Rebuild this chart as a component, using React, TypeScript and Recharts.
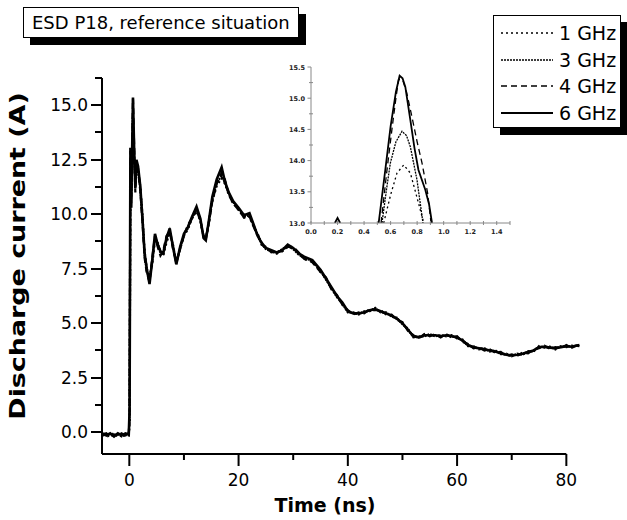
import { LineChart, Line, XAxis, YAxis, ReferenceLine } from 'recharts'

// time axis (ns) shared by the four main traces
const time = [
    -4.85, -4.2, -3.5, -2.8, -2.1, -1.4, -0.7, -0.1, 0.05, 0.2,
    0.35, 0.67, 0.9, 1.1, 1.3, 1.6, 2.0, 2.4, 2.8, 3.2,
    3.7, 4.2, 4.7, 5.2, 5.7, 6.2, 6.8, 7.4, 8.0, 8.6,
    9.3, 10.0, 10.7, 11.5, 12.3, 13.0, 13.6, 14.0, 14.5, 15.2,
    16.0, 16.9, 17.5, 18.2, 19.0, 20.0, 21.0, 22.0, 22.8, 23.5,
    24.2, 25, 26, 27, 28, 29, 30, 31, 32, 33.5,
    35, 36, 37, 38, 39, 40, 41, 42, 43, 44,
    45, 46, 47, 48, 49, 50, 51, 52, 53, 54,
    55, 56, 57, 58, 59, 60, 61, 62, 63, 64,
    65, 66, 67, 68, 69, 70, 71, 72, 73, 74,
    75, 76, 77, 78, 79, 80, 81, 82.4,
]

const ghz1 = [
    -0.1, -0.2, -0.15, -0.05, -0.2, -0.1, -0.15, -0.2, 0.5, 11.8,
    11.0, 13.93, 12.5, 11.6, 12.1, 12.0, 11.3, 10.0, 8.3, 7.5,
    7.1, 7.7, 8.8, 8.6, 8.3, 8.1, 8.7, 9.15, 8.6, 7.8,
    8.4, 9.0, 9.3, 9.8, 10.15, 9.7, 9.0, 8.9, 9.5, 10.6,
    11.3, 11.65, 11.4, 10.9, 10.5, 10.2, 9.85, 9.9, 9.4, 9.0,
    8.7, 8.4, 8.35, 8.2, 8.35, 8.5, 8.45, 8.2, 7.95, 7.85,
    7.35, 7.05, 6.6, 6.25, 5.85, 5.55, 5.45, 5.45, 5.5, 5.6,
    5.6, 5.55, 5.45, 5.35, 5.2, 5.0, 4.7, 4.4, 4.35, 4.45,
    4.45, 4.45, 4.4, 4.45, 4.4, 4.35, 4.2, 4.0, 3.9, 3.85,
    3.8, 3.75, 3.7, 3.62, 3.55, 3.52, 3.55, 3.6, 3.68, 3.75,
    3.9, 3.92, 3.88, 3.85, 3.9, 3.95, 3.92, 4.0,
]

const ghz3 = [
    -0.15, -0.1, -0.1, -0.15, -0.1, -0.2, -0.1, -0.15, 0.6, 12.4,
    10.8, 14.47, 12.7, 11.4, 12.3, 12.1, 11.2, 9.9, 8.1, 7.4,
    7.0, 7.8, 8.9, 8.7, 8.2, 8.15, 8.8, 9.25, 8.55, 7.75,
    8.45, 9.05, 9.35, 9.85, 10.25, 9.75, 8.95, 8.85, 9.55, 10.7,
    11.45, 11.75, 11.45, 10.95, 10.55, 10.25, 9.9, 9.95, 9.45, 9.05,
    8.65, 8.4, 8.3, 8.2, 8.4, 8.55, 8.4, 8.15, 8.0, 7.85,
    7.4, 7.0, 6.6, 6.2, 5.9, 5.5, 5.5, 5.4, 5.55, 5.55,
    5.7, 5.5, 5.5, 5.3, 5.25, 4.95, 4.75, 4.35, 4.4, 4.4,
    4.5, 4.4, 4.45, 4.4, 4.45, 4.3, 4.25, 3.95, 3.95, 3.8,
    3.85, 3.7, 3.75, 3.58, 3.6, 3.48, 3.6, 3.55, 3.72, 3.7,
    3.95, 3.88, 3.93, 3.8, 3.95, 3.9, 3.97, 3.95,
]

const ghz4 = [
    -0.1, -0.05, -0.2, -0.1, -0.15, -0.05, -0.2, -0.05, 0.8, 12.9,
    10.5, 15.3, 13.0, 11.0, 12.4, 12.0, 11.1, 9.7, 8.0, 7.3,
    6.9, 8.0, 9.0, 8.5, 8.1, 8.3, 9.0, 9.2, 8.4, 7.8,
    8.4, 9.0, 9.5, 9.8, 10.2, 9.7, 9.0, 8.9, 9.5, 10.6,
    11.4, 11.9, 11.6, 10.9, 10.5, 10.2, 9.85, 9.9, 9.4, 9.1,
    8.6, 8.5, 8.25, 8.3, 8.3, 8.5, 8.5, 8.25, 7.95, 7.8,
    7.35, 7.1, 6.55, 6.3, 5.85, 5.6, 5.4, 5.5, 5.45, 5.65,
    5.6, 5.6, 5.4, 5.4, 5.15, 5.05, 4.65, 4.45, 4.3, 4.5,
    4.4, 4.5, 4.35, 4.5, 4.35, 4.4, 4.15, 4.05, 3.85, 3.9,
    3.75, 3.8, 3.65, 3.68, 3.5, 3.57, 3.5, 3.65, 3.62, 3.8,
    3.85, 3.97, 3.83, 3.9, 3.85, 4.0, 3.87, 4.05,
]

const ghz6 = [
    -0.05, -0.15, -0.05, -0.2, -0.05, -0.15, -0.05, -0.1, 1.0, 13.05,
    10.3, 15.35, 12.8, 11.2, 12.5, 12.2, 11.3, 9.8, 8.2, 7.5,
    6.8, 7.9, 9.1, 8.6, 8.3, 8.2, 8.9, 9.35, 8.5, 7.7,
    8.5, 9.1, 9.4, 9.9, 10.35, 9.8, 8.9, 8.8, 9.6, 10.8,
    11.6, 12.15, 11.5, 11.0, 10.6, 10.3, 9.95, 10.05, 9.5, 9.0,
    8.7, 8.45, 8.35, 8.25, 8.35, 8.6, 8.45, 8.2, 8.05, 7.9,
    7.45, 7.05, 6.65, 6.25, 5.95, 5.55, 5.45, 5.45, 5.5, 5.6,
    5.65, 5.55, 5.45, 5.35, 5.2, 5.0, 4.7, 4.4, 4.35, 4.45,
    4.45, 4.45, 4.4, 4.45, 4.4, 4.35, 4.2, 4.0, 3.9, 3.85,
    3.8, 3.75, 3.7, 3.62, 3.55, 3.52, 3.55, 3.6, 3.68, 3.75,
    3.9, 3.92, 3.88, 3.85, 3.9, 3.95, 3.92, 4.0,
]

// inset: zoom on the first peak
const insetT1 = [0.548, 0.6, 0.648, 0.699, 0.749, 0.8, 0.85]
const insetV1 = [13, 13.45, 13.8, 13.93, 13.8, 13.4, 13]
const insetT3 = [0.535, 0.57, 0.598, 0.64, 0.686, 0.72, 0.749, 0.799, 0.844]
const insetV3 = [13, 13.55, 13.96, 14.3, 14.47, 14.4, 14.22, 13.69, 13]
const insetT4 = [0.528, 0.57, 0.61, 0.64, 0.66, 0.69, 0.72, 0.761, 0.8, 0.837, 0.879, 0.905]
const insetV4 = [13, 13.8, 14.5, 15.0, 15.3, 15.3, 15.1, 14.7, 14.3, 13.96, 13.48, 13]
const insetT6 = [0.18, 0.2, 0.22, 0.3, 0.51, 0.56, 0.6, 0.64, 0.668, 0.69, 0.711, 0.749, 0.78, 0.81, 0.862, 0.89, 0.912]
const insetV6 = [13, 13.08, 13, null, 13, 13.85, 14.55, 15.1, 15.36, 15.32, 15.18, 14.65, 14.2, 13.85, 13.53, 13.3, 13]

const xTicks = [0, 10, 20, 30, 40, 50, 60, 70, 80]
const yTicks = [0, 1.25, 2.5, 3.75, 5, 6.25, 7.5, 8.75, 10, 11.25, 12.5, 13.75, 15, 16.25]
const insetXTicks = [0, 0.1, 0.2, 0.3, 0.4, 0.5, 0.6, 0.7, 0.8, 0.9, 1.0, 1.1, 1.2, 1.3, 1.4, 1.5]
const insetYTicks = [13, 13.25, 13.5, 13.75, 14, 14.25, 14.5, 14.75, 15, 15.25, 15.5]

const series = [
    { key: 'g1', name: '1 GHz', dash: '2 3', width: 2.2, inset: 1.3, t: insetT1, v: insetV1 },
    { key: 'g3', name: '3 GHz', dash: '2 1', width: 2.2, inset: 1.3, t: insetT3, v: insetV3 },
    { key: 'g4', name: '4 GHz', dash: '6 4', width: 2.2, inset: 1.3, t: insetT4, v: insetV4 },
    { key: 'g6', name: '6 GHz', dash: undefined, width: 2.6, inset: 1.8, t: insetT6, v: insetV6 },
]

const mainData = time.map((t, i) => ({ t, g1: ghz1[i], g3: ghz3[i], g4: ghz4[i], g6: ghz6[i] }))

const FONT = '"DejaVu Sans", sans-serif'

const XTick = ({ x, y, payload }: any) => {
    const major = payload.value % 20 === 0
    return (
        <g>
            <line x1={x} x2={x} y1={y} y2={y + (major ? 12 : 6)} stroke="#000" strokeWidth={2} />
            {major && (
                <text x={x} y={y + 32} textAnchor="middle" fontSize={17} fontFamily={FONT} fill="#000">
                    {payload.value}
                </text>
            )}
        </g>
    )
}

const YTick = ({ x, y, payload }: any) => {
    const major = Math.abs(payload.value / 2.5 - Math.round(payload.value / 2.5)) < 0.01
    const yy = Math.round(y)
    return (
        <g>
            <line x1={x - (major ? 11 : 7)} x2={x} y1={yy} y2={yy} stroke="#000" strokeWidth={2} />
            {major && (
                <text x={x - 14} y={yy + 6} textAnchor="end" fontSize={17} fontFamily={FONT} fill="#000">
                    {payload.value.toFixed(1)}
                </text>
            )}
        </g>
    )
}

const InsetXTick = ({ x, y, payload }: any) => {
    const n = Math.round(payload.value * 10)
    const labelled = n % 2 === 0 && n <= 14
    return (
        <g>
            <line x1={x} x2={x} y1={y - 2} y2={y + 2} stroke="#888" strokeWidth={1} />
            {labelled && (
                <text x={x} y={y + 11} textAnchor="middle" fontSize={6.5} fontWeight="bold" fontFamily={FONT} fill="#222">
                    {payload.value.toFixed(1)}
                </text>
            )}
        </g>
    )
}

const InsetYTick = ({ x, y, payload }: any) => {
    const major = Math.round(payload.value * 4) % 2 === 0
    return (
        <g>
            <line x1={x - (major ? 3.5 : 2)} x2={x + (major ? 0 : 2)} y1={y} y2={y} stroke="#888" strokeWidth={1} />
            {major && (
                <text x={x - 6} y={y + 2.5} textAnchor="end" fontSize={6.5} fontWeight="bold" fontFamily={FONT} fill="#222">
                    {payload.value.toFixed(1)}
                </text>
            )}
        </g>
    )
}

const LegendSwatch = ({ dash, width }: { dash?: string; width: number }) => (
    <svg width={52} height={8} style={{ display: 'block' }}>
        <line x1={0} x2={52} y1={4} y2={4} stroke="#000" strokeWidth={width} strokeDasharray={dash} />
    </svg>
)

export default function App() {
    return (
        <div style={{ position: 'absolute', left: 0, top: 0, width: 627, height: 520, background: '#fff', fontFamily: FONT }}>
            {/* main chart */}
            <div style={{ position: 'absolute', left: 0, top: 0 }}>
                <LineChart width={627} height={520} data={mainData} margin={{ top: 78, right: 47, bottom: 36, left: 22 }}>
                    <XAxis
                        type="number"
                        dataKey="t"
                        domain={[-5, 82.5]}
                        ticks={xTicks}
                        interval={0}
                        allowDataOverflow
                        height={30}
                        axisLine={false}
                        tickLine={false}
                        tickSize={0}
                        tickMargin={0}
                        tick={<XTick />}
                    />
                    <YAxis
                        type="number"
                        domain={[-1, 16.25]}
                        ticks={yTicks}
                        interval={0}
                        allowDataOverflow
                        width={80}
                        stroke="#000"
                        axisLine={{ stroke: '#000', strokeWidth: 2 }}
                        tickLine={false}
                        tickSize={0}
                        tickMargin={0}
                        tick={<YTick />}
                    />
                    <ReferenceLine segment={[{ x: -5, y: -1 }, { x: 80, y: -1 }]} stroke="#000" strokeWidth={2} ifOverflow="visible" />
                    <ReferenceLine segment={[{ x: -5, y: -1 }, { x: -5, y: 16.25 }]} stroke="#000" strokeWidth={2} ifOverflow="visible" />
                    {series.map((s) => (
                        <Line
                            key={s.key}
                            type="linear"
                            dataKey={s.key}
                            stroke="#000"
                            strokeWidth={s.width}
                            strokeDasharray={s.dash}
                            dot={false}
                            isAnimationActive={false}
                        />
                    ))}
                </LineChart>
            </div>

            {/* inset chart */}
            <div style={{ position: 'absolute', left: 0, top: 0 }}>
                <LineChart width={627} height={520} margin={{ top: 67, right: 117, bottom: 277, left: 281 }}>
                    <XAxis
                        type="number"
                        dataKey="u"
                        domain={[0, 1.5]}
                        ticks={insetXTicks}
                        interval={0}
                        allowDataOverflow
                        height={20}
                        stroke="#888"
                        axisLine={{ stroke: '#888', strokeWidth: 1 }}
                        tickLine={false}
                        tickSize={0}
                        tickMargin={0}
                        tick={<InsetXTick />}
                    />
                    <YAxis
                        type="number"
                        domain={[13, 15.5]}
                        ticks={insetYTicks}
                        interval={0}
                        allowDataOverflow
                        width={30}
                        stroke="#888"
                        axisLine={{ stroke: '#888', strokeWidth: 1 }}
                        tickLine={false}
                        tickSize={0}
                        tickMargin={0}
                        tick={<InsetYTick />}
                    />
                    {series.map((s) => (
                        <Line
                            key={s.key}
                            data={s.t.map((u, i) => ({ u, v: s.v[i] }))}
                            type="linear"
                            dataKey="v"
                            stroke="#000"
                            strokeWidth={s.inset}
                            strokeDasharray={s.dash}
                            dot={false}
                            isAnimationActive={false}
                        />
                    ))}
                </LineChart>
            </div>

            {/* title box */}
            <div
                style={{
                    position: 'absolute', left: 23, top: 7, width: 266, height: 29,
                    border: '1px solid #000', boxShadow: '7px 7px 0 #000', background: '#fff',
                    fontSize: 18, lineHeight: '29px', paddingLeft: 8, whiteSpace: 'nowrap',
                }}
            >
                ESD P18, reference situation
            </div>

            {/* legend */}
            <div
                style={{
                    position: 'absolute', left: 493, top: 15, width: 126, height: 111,
                    border: '1px solid #000', boxShadow: '7px 7px 0 #000', background: '#fff',
                }}
            >
                {series.map((s, i) => (
                    <div key={s.key} style={{ position: 'absolute', left: 7, top: 6 + i * 26.7, display: 'flex', alignItems: 'center', height: 22 }}>
                        <LegendSwatch dash={s.dash} width={s.inset} />
                        <span style={{ marginLeft: 6, fontSize: 19, whiteSpace: 'nowrap' }}>{s.name}</span>
                    </div>
                ))}
            </div>

            {/* axis titles */}
            <div
                style={{
                    position: 'absolute', left: 18, top: 256, transform: 'translate(-50%, -50%) rotate(-90deg) scaleX(1.28)',
                    fontSize: 21, fontWeight: 'bold', whiteSpace: 'nowrap',
                }}
            >
                Discharge current (A)
            </div>
            <div
                style={{
                    position: 'absolute', left: 325, top: 505, transform: 'translate(-50%, -50%)',
                    fontSize: 19, fontWeight: 'bold', whiteSpace: 'nowrap',
                }}
            >
                Time (ns)
            </div>
        </div>
    )
}
